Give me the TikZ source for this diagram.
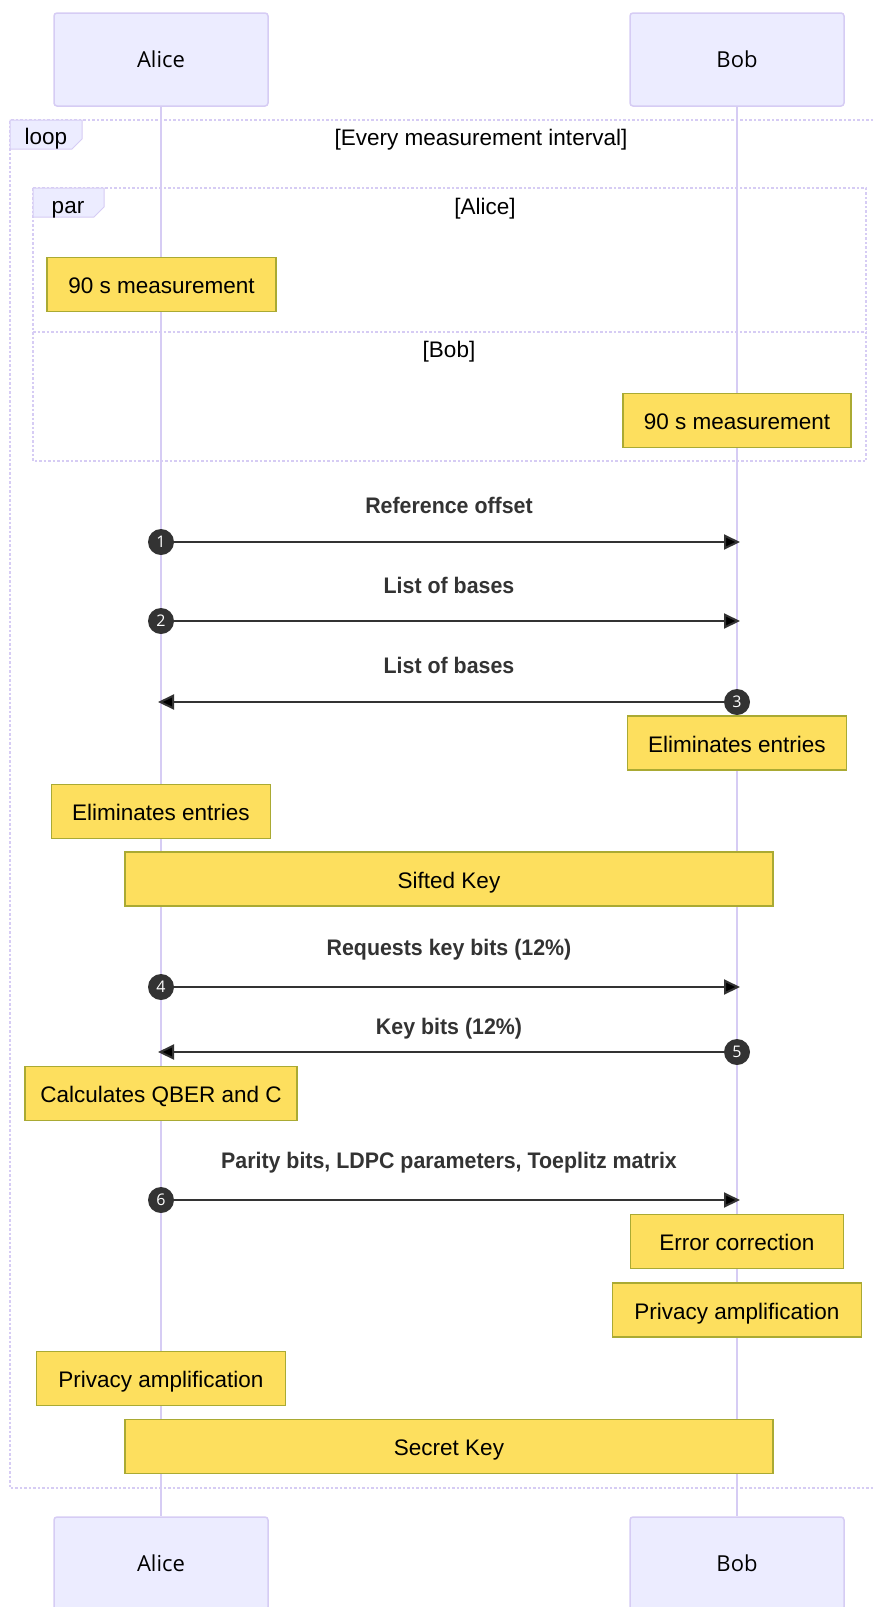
\documentclass[tikz,border=0pt]{standalone}
\usepackage{fontspec}
\setmainfont{Liberation Sans}
\newfontfamily\actorfont{Open Sans}
\newfontfamily\msgfont[FakeStretch=0.95]{Liberation Sans}
\usetikzlibrary{arrows.meta}
\definecolor{actorfill}{HTML}{ECECFF}
\definecolor{lavender}{HTML}{D6CCF4}
\definecolor{notefill}{HTML}{FDDF5E}
\definecolor{noteline}{HTML}{AAAA33}
\definecolor{dark}{HTML}{333333}
\begin{document}
\begin{tikzpicture}
  [x=1pt,y=-1pt,
   actor/.style={rectangle,rounded corners=3pt,draw=lavender,fill=actorfill,line width=1.5pt,
     minimum width=214pt,minimum height=93pt,font=\actorfont\fontsize{22}{26}\selectfont},
   note/.style={rectangle,draw=noteline,fill=notefill,line width=1.2pt,minimum height=54pt,
     inner sep=0pt,text height=19pt,text depth=1pt,font=\fontsize{22.5}{26}\selectfont},
   msg/.style={font=\msgfont\bfseries\fontsize{22.5}{26}\selectfont,text=dark},
   num/.style={circle,fill=dark,minimum size=26pt,inner sep=0pt,text=white,
     font=\actorfont\fontsize{16}{18}\selectfont},
   boxframe/.style={draw=lavender,line width=2.5pt,dash pattern=on 2.5pt off 2pt},
   tag/.style={fill=actorfill,draw=lavender,line width=1pt},
   label/.style={font=\fontsize{22.5}{26}\selectfont}]
  \useasboundingbox (0,0) rectangle (873,1607);

  % actors
  \node[actor] (a0) at (161,59.5) {Alice};
  \node[actor] (b0) at (737,59.5) {Bob};
  \node[actor] (a9) at (161,1563.5) {Alice};
  \node[actor] (b9) at (737,1563.5) {Bob};
  \draw[lavender,line width=2.5pt] (a0) -- (a9) (b0) -- (b9);

  % loop and par frames
  \draw[boxframe] (873,120) -- (10,120) -- (10,1488) -- (873,1488);
  \draw[tag] (10,120) -- (82,120) -- (82,139) -- (72,149) -- (10,149) -- cycle;
  \node[label] (loop) at (46,139) {loop};
  \node[label] (cond) at (481,140) {[Every measurement interval]};
  \draw[boxframe] (33,188) rectangle (866,461) (33,332) -- (866,332);
  \draw[tag] (33,188) -- (104,188) -- (104,207) -- (94,217) -- (33,217) -- cycle;
  \node[label] (par) at (68,210) {par};
  \node[label] (pa) at (485,209) {[Alice]};
  \node[label] (pb) at (449,352) {[Bob]};

  % notes
  \node[note,minimum width=229pt] (n1) at (161.5,284.5) {90 s measurement};
  \node[note,minimum width=228pt] (n2) at (737,420.5) {90 s measurement};
  \node[note,minimum width=219pt] (n3) at (737,743) {Eliminates entries};
  \node[note,minimum width=219pt] (n4) at (161,811.5) {Eliminates entries};
  \node[note,minimum width=648pt] (n5) at (449,879) {Sifted Key};
  \node[note,minimum width=272pt] (n6) at (161,1093.5) {Calculates QBER and C};
  \node[note,minimum width=213pt] (n7) at (737,1241.5) {Error correction};
  \node[note,minimum width=249pt] (n8) at (737,1310) {Privacy amplification};
  \node[note,minimum width=249pt] (n9) at (161,1378.5) {Privacy amplification};
  \node[note,minimum width=648pt] (n10) at (449,1446.5) {Secret Key};

  % messages
  \node[msg] (l1) at (449,505) {Reference offset};
  \node[msg] (l2) at (449,585) {List of bases};
  \node[msg] (l3) at (449,665) {List of bases};
  \node[msg] (l4) at (449,950) {Requests key bits (12\%)};
  \node[msg] (l5) at (449,1029) {Key bits (12\%)};
  \node[msg] (l6) at (449,1163) {Parity bits, LDPC parameters, Toeplitz matrix};
  \node[num] (m1) at (161,542) {1};
  \node[num] (m2) at (161,621) {2};
  \node[num] (m3) at (737,702) {3};
  \node[num] (m4) at (161,987) {4};
  \node[num] (m5) at (737,1052) {5};
  \node[num] (m6) at (161,1200) {6};
  \coordinate (e1) at (740,542);
  \coordinate (e2) at (740,621);
  \coordinate (e3) at (158,702);
  \coordinate (e4) at (740,987);
  \coordinate (e5) at (158,1052);
  \coordinate (e6) at (740,1200);
  \path[draw=dark,line width=2pt,-{Triangle[length=16pt,width=15pt]}]
        (m1) edge (e1)
        (m2) edge (e2)
        (m3) edge (e3)
        (m4) edge (e4)
        (m5) edge (e5)
        (m6) edge (e6);
\end{tikzpicture}
\end{document}
